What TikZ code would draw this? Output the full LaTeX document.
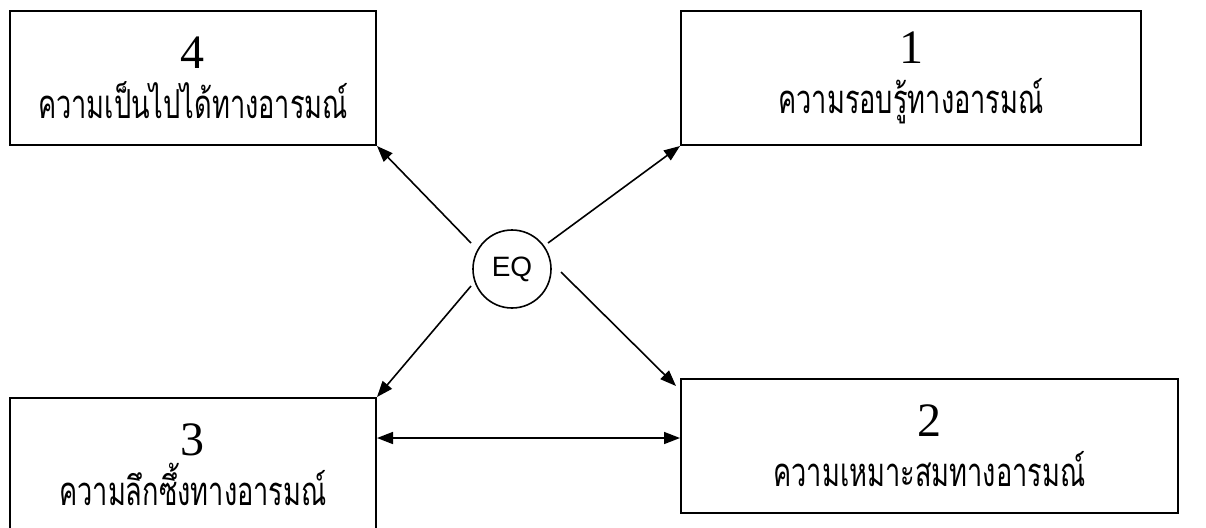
\documentclass[tikz,border=0pt]{standalone}
\usepackage{fontspec}
\setmainfont{Liberation Serif}
\newfontfamily\thaifont[Script=Thai,FakeStretch=0.68]{Loma}
\newfontfamily\eqfont{Liberation Sans}
\usetikzlibrary{arrows.meta}

\newcommand{\digitsize}{\fontsize{24pt}{25pt}\selectfont}

\begin{document}
\begin{tikzpicture}[x=0.5pt,y=-0.5pt]
		\useasboundingbox (0,0) rectangle (1206,527);
		\begin{scope}[every node/.style={rectangle,draw,line width=1pt,inner sep=0pt,
		              align=center,font=\fontsize{20pt}{25pt}\selectfont}]
		    \node[minimum width=183pt,minimum height=67pt] (feasible) at (193,78)
		        {{\digitsize 4}\\{\thaifont ความเป็นไปได้ทางอารมณ์}};
		    \node[minimum width=230pt,minimum height=67pt] (aware) at (911,78)
		        {{\digitsize 1}\\{\thaifont ความรอบรู้ทางอารมณ์}};
		    \node[minimum width=183pt,minimum height=67pt] (deep) at (193,465)
		        {{\digitsize 3}\\{\thaifont ความลึกซึ้งทางอารมณ์}};
		    \node[minimum width=248.5pt,minimum height=67pt] (fit) at (929.5,446)
		        {{\digitsize 2}\\{\thaifont ความเหมาะสมทางอารมณ์}};
		\end{scope}
		
		\node[circle,draw,thick,minimum size=39pt,inner sep=0pt,
		      font=\eqfont\fontsize{14pt}{16pt}\selectfont] (eq) at (512,269) {EQ};
		
		\coordinate (eq-nw) at (471,243);
		\coordinate (eq-ne) at (548,243);
		\coordinate (eq-sw) at (471,286);
		\coordinate (eq-se) at (561,272);
		\coordinate (fit-in) at (676,386);
		\coordinate (link) at (528,438);
		
		\begin{scope}[>={Triangle[length=8pt,width=6pt]},
		              every edge/.style={draw=black,thick}]
		    	\path (eq-nw) edge[->] (feasible.south east);
		    	\path (eq-ne) edge[->] (aware.south west);
		    	\path (eq-sw) edge[->] (deep.north east);
		    	\path (eq-se) edge[->] (fit-in);
		    	\path (deep.east |- link) edge[<->] (fit.west |- link);
		\end{scope}
		\end{tikzpicture}
\end{document}
